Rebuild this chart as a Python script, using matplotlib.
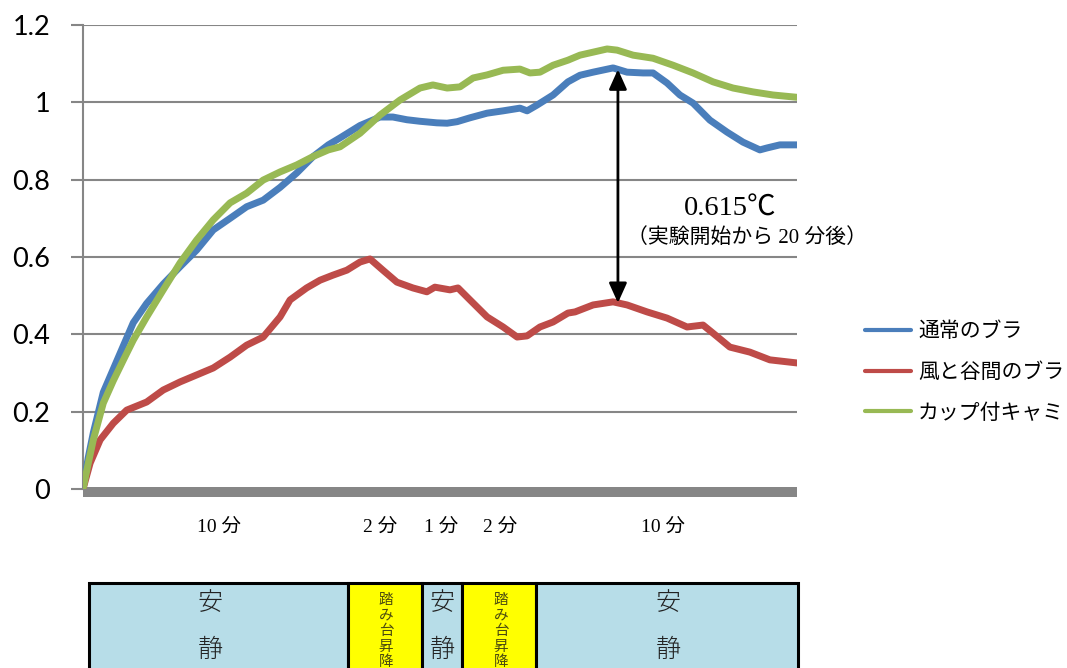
import numpy as np
import matplotlib
matplotlib.use('Agg')
import matplotlib.pyplot as plt
from matplotlib.patches import Rectangle
from matplotlib.font_manager import FontProperties

W, H = 1067, 668
JP = 'Noto Sans CJK JP'

# ---------------- data (time in minutes, temperature change in ℃) ----------------
series_names = ['通常のブラ', '風と谷間のブラ', 'カップ付キャミ']
series_colors = ['#4A7EBB', '#BE4B48', '#98B954']

t_normal = [0, 0.18, 0.36, 0.71, 1.06, 1.41, 1.76, 2.23, 2.81, 3.40, 3.98, 4.56, 5.15,
            5.73, 6.31, 6.90, 7.48, 8.06, 8.59, 9.00, 9.70, 10.40, 10.85, 11.34, 11.80,
            12.39, 12.75, 13.10, 13.55, 14.15, 14.71, 15.30, 15.55, 15.90, 16.46, 16.98,
            17.40, 17.86, 18.56, 19.05, 19.61, 19.96, 20.45, 20.90, 21.36, 21.95, 22.55,
            23.11, 23.70, 23.95, 24.40, 25.00]
v_normal = [0, 0.08, 0.145, 0.25, 0.31, 0.37, 0.43, 0.48, 0.53, 0.575, 0.618, 0.67, 0.70,
            0.73, 0.747, 0.78, 0.817, 0.86, 0.89, 0.908, 0.94, 0.962, 0.962, 0.955, 0.951,
            0.947, 0.946, 0.95, 0.96, 0.972, 0.978, 0.985, 0.978, 0.993, 1.019, 1.053,
            1.07, 1.078, 1.089, 1.078, 1.076, 1.076, 1.05, 1.019, 0.998, 0.954, 0.923,
            0.897, 0.877, 0.882, 0.89, 0.89]

t_wind = [0, 0.25, 0.60, 1.06, 1.53, 2.23, 2.81, 3.40, 3.98, 4.56, 5.15, 5.73, 6.31,
          6.90, 7.25, 7.83, 8.30, 8.75, 9.24, 9.70, 10.05, 10.50, 10.99, 11.55, 12.04,
          12.32, 12.85, 13.13, 13.55, 14.15, 14.71, 15.20, 15.55, 16.00, 16.46, 16.98,
          17.23, 17.86, 18.56, 19.05, 19.75, 20.45, 21.15, 21.71, 22.06, 22.65, 23.35,
          24.05, 25.00]
v_wind = [0, 0.067, 0.127, 0.17, 0.204, 0.225, 0.256, 0.277, 0.295, 0.313, 0.341, 0.372,
          0.393, 0.445, 0.489, 0.52, 0.54, 0.553, 0.566, 0.587, 0.595, 0.566, 0.535, 0.52,
          0.51, 0.522, 0.515, 0.52, 0.489, 0.445, 0.419, 0.393, 0.396, 0.419, 0.432,
          0.455, 0.458, 0.476, 0.484, 0.476, 0.458, 0.442, 0.419, 0.424, 0.403, 0.367,
          0.354, 0.334, 0.326]

t_cami = [0, 0.18, 0.36, 0.71, 1.06, 1.41, 1.76, 2.23, 2.81, 3.40, 3.98, 4.56, 5.15,
          5.73, 6.31, 6.90, 7.48, 8.06, 8.59, 9.00, 9.70, 10.40, 11.10, 11.80, 12.25,
          12.75, 13.20, 13.66, 14.15, 14.71, 15.30, 15.65, 16.00, 16.46, 16.98, 17.40,
          18.35, 18.70, 19.26, 19.96, 20.66, 21.36, 22.06, 22.76, 23.46, 24.16, 25.00]
v_cami = [0, 0.065, 0.127, 0.222, 0.28, 0.333, 0.385, 0.445, 0.515, 0.585, 0.644, 0.696,
          0.74, 0.765, 0.799, 0.82, 0.838, 0.86, 0.877, 0.885, 0.92, 0.967, 1.006, 1.037,
          1.045, 1.037, 1.04, 1.063, 1.071, 1.083, 1.086, 1.076, 1.078, 1.096, 1.109,
          1.122, 1.138, 1.135, 1.122, 1.114, 1.096, 1.076, 1.053, 1.037, 1.027, 1.019,
          1.013]

y_ticks = [0, 0.2, 0.4, 0.6, 0.8, 1.0, 1.2]
y_tick_labels = ['0', '0.2', '0.4', '0.6', '0.8', '1', '1.2']

phase_duration_labels = ['10 分', '2 分', '1 分', '2 分', '10 分']
phase_names = ['安静', '踏み台昇降', '安静', '踏み台昇降', '安静']

annot_time = 18.73
annot_value = '0.615℃'
annot_note = '（実験開始から 20 分後）'

# ---------------- layout ----------------
def fx(px):
    return px / W

def fy(py):
    return 1 - py / H

fig = plt.figure(figsize=(W / 100, H / 100), dpi=100)
ax = fig.add_axes([fx(83), fy(489), fx(797) - fx(83), fy(25) - fy(489)])

grid_c = '#868686'
series = [(t_normal, v_normal), (t_wind, v_wind), (t_cami, v_cami)]
lines = []
for (t, v), name, c in zip(series, series_names, series_colors):
    ln, = ax.plot(t, v, color=c, lw=5, label=name, solid_joinstyle='round',
                  solid_capstyle='round', zorder=3)
    lines.append(ln)

ax.set_xlim(0, 25)
ax.set_ylim(0, 1.2)
ax.set_yticks(y_ticks)
ax.set_yticklabels(y_tick_labels, fontfamily='Lato', fontsize=19.5)
ax.set_xticks([])
ax.yaxis.grid(True, color=grid_c, lw=1.5)
ax.set_axisbelow(True)
ax.tick_params(axis='y', length=8.6, width=1.5, color=grid_c, pad=15)
for s in ['top', 'right']:
    ax.spines[s].set_visible(False)
ax.spines['left'].set_color(grid_c)
ax.spines['left'].set_linewidth(1.5)
ax.spines['bottom'].set_color(grid_c)
ax.spines['bottom'].set_linewidth(7.2)
ax.spines['bottom'].set_position(('outward', 2.2))
ax.spines['bottom'].set_capstyle('butt')

# arrow annotation
top_v = np.interp(annot_time, t_normal, v_normal)
bot_v = np.interp(annot_time, t_wind, v_wind)
ax.annotate('', xy=(annot_time, bot_v), xytext=(annot_time, top_v),
            arrowprops=dict(arrowstyle='<|-|>,head_length=0.6,head_width=0.27',
                            color='black', lw=2, shrinkA=0, shrinkB=0,
                            mutation_scale=20), zorder=5)
fig.text(fx(730), fy(209), annot_value, family=['Liberation Serif', JP], fontsize=20.5,
         ha='center', va='center')
fig.text(fx(747), fy(238), annot_note, family=['Liberation Serif', JP], fontsize=15,
         ha='center', va='center')

# legend
leg = fig.legend(lines, series_names, loc='center left',
                 bbox_to_anchor=(fx(865), fy(372)), frameon=False, borderpad=0,
                 borderaxespad=0, handlelength=2.2, handletextpad=0.35,
                 labelspacing=0.9, prop=FontProperties(family=JP, size=15))
for l in leg.get_lines():
    l.set_linewidth(3)

# phase duration labels below the axis
dur_px = [219, 380, 441, 500, 663]
for lab, px in zip(phase_duration_labels, dur_px):
    fig.text(fx(px), fy(527), lab, family=['Liberation Serif', JP], fontsize=14,
             ha='center', va='center')

# phase table at the bottom
cell_edges = [89, 348, 422, 462, 536, 798]
cell_colors = {'安静': '#B7DDE8', '踏み台昇降': '#FFFF00'}
text_cx = [210, 386, 442, 501, 668]
for i, name in enumerate(phase_names):
    x0, x1 = cell_edges[i], cell_edges[i + 1]
    r = Rectangle((fx(x0), fy(720)), fx(x1) - fx(x0), fy(583) - fy(720),
                  transform=fig.transFigure, facecolor=cell_colors[name],
                  edgecolor='black', lw=2.2, clip_on=False)
    fig.add_artist(r)
    if name == '安静':
        for ch, py in zip(name, [603, 650]):
            fig.text(fx(text_cx[i]), fy(py), ch, family=JP, fontsize=18,
                     ha='center', va='center', color='#222222', fontweight='light')
    else:
        for k, ch in enumerate(name):
            fig.text(fx(text_cx[i]), fy(600 + 15.5 * k), ch, family=JP, fontsize=10.5,
                     ha='center', va='center', color='#4a4a10')

fig.savefig('out.png', dpi=100)
